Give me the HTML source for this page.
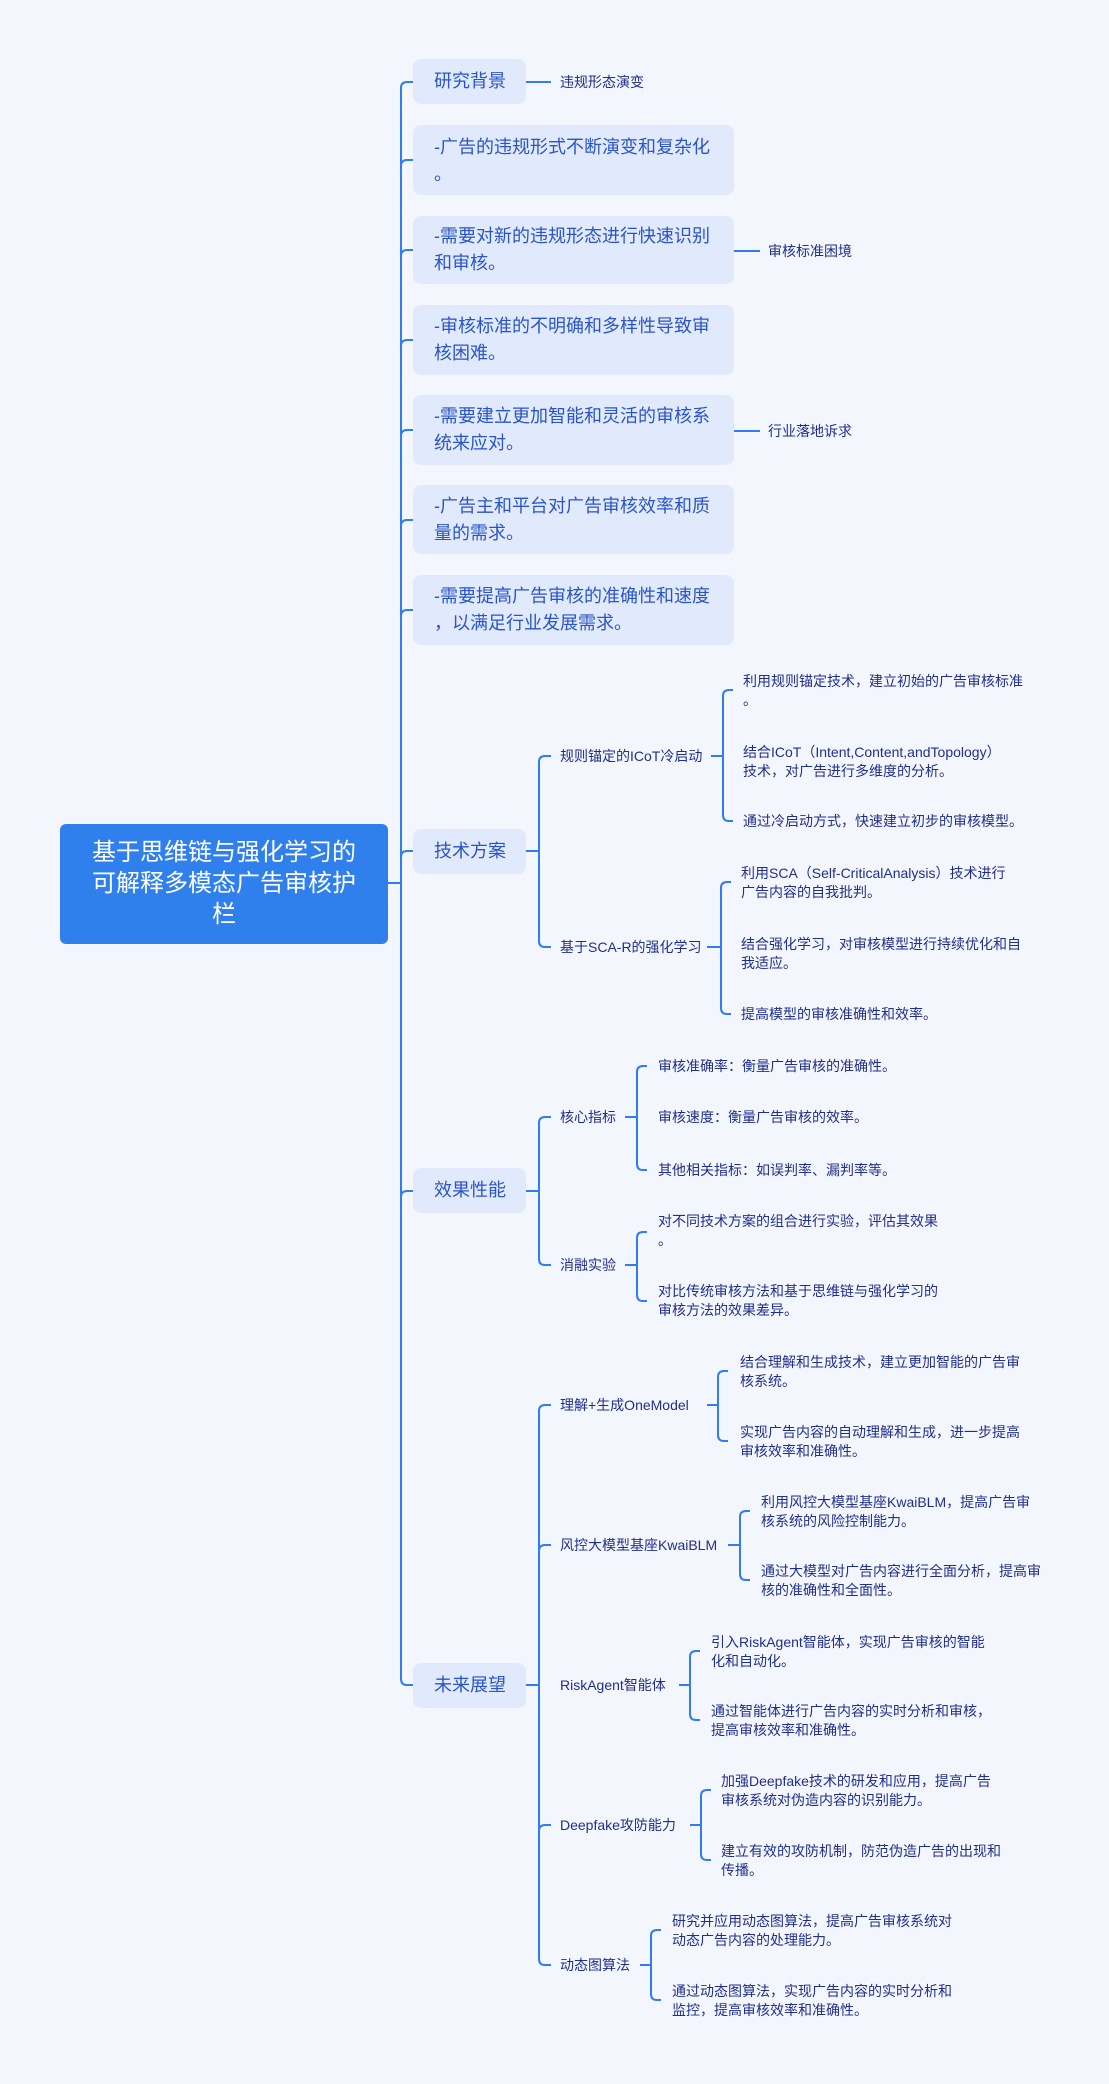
<!DOCTYPE html>
<html><head><meta charset="utf-8"><style>
html,body{margin:0;padding:0}
body{width:1109px;height:2084px;background:#f4f6fd;position:relative;overflow:hidden;font-family:"Liberation Sans","Noto Sans CJK SC",sans-serif}
.b{position:absolute;background:#e1e9fc;border-radius:8px;color:#2a55c6;font-size:18px;line-height:27px;box-sizing:border-box;padding-left:21px;white-space:nowrap}
.t{position:absolute;font-size:14px;line-height:18.5px;color:#1f2f8c;white-space:nowrap}
.root{position:absolute;left:60px;top:824px;width:328px;height:120px;background:#2f80ed;border-radius:6px;color:#fff;font-size:24px;line-height:31px;text-align:center;box-sizing:border-box;padding-top:13px}
svg{position:absolute;left:0;top:0}
</style></head><body>
<svg width="1109" height="2084" fill="none" stroke="#2f7df0" stroke-width="2">
<path d="M388,883H401"/>
<path d="M414,82H407Q401,82 401,88V1679Q401,1685 407,1685H414"/>
<path d="M401,166Q401,160 407,160H414M401,256Q401,250 407,250H414M401,346Q401,340 407,340H414M401,436Q401,430 407,430H414M401,526Q401,520 407,520H414M401,616Q401,610 407,610H414M401,857Q401,851 407,851H414M401,1197Q401,1191 407,1191H414"/>
<path d="M526,82H551M734,251H760M734,431H760"/>
<path d="M526,851H539M551,756H545Q539,756 539,762V941Q539,947 545,947H551"/>
<path d="M711,756H723M733,690H729Q723,690 723,696V815Q723,821 729,821H733"/>
<path d="M707,947H721M731,882H727Q721,882 721,888V1008Q721,1014 727,1014H731"/>
<path d="M526,1191H539M551,1117H545Q539,1117 539,1123V1259Q539,1265 545,1265H551"/>
<path d="M625,1117H637M647,1066H643Q637,1066 637,1072V1164Q637,1170 643,1170H647"/>
<path d="M625,1265H637M647,1232H643Q637,1232 637,1238V1295Q637,1301 643,1301H647"/>
<path d="M526,1685H539M551,1405H545Q539,1405 539,1411V1959Q539,1965 545,1965H551M539,1551Q539,1545 545,1545H551M539,1831Q539,1825 545,1825H551"/>
<path d="M707,1405H718M728,1371H724Q718,1371 718,1377V1435Q718,1441 724,1441H728"/>
<path d="M728,1545H740M750,1511H746Q740,1511 740,1517V1574Q740,1580 746,1580H750"/>
<path d="M679,1685H690M700,1651H696Q690,1651 690,1657V1714Q690,1720 696,1720H700"/>
<path d="M690,1825H701M711,1790H707Q701,1790 701,1796V1854Q701,1860 707,1860H711"/>
<path d="M640,1965H651M661,1930H657Q651,1930 651,1936V1994Q651,2000 657,2000H661"/>
</svg>
<div class="root">基于思维链与强化学习的<br>可解释多模态广告审核护<br>栏</div>
<div class="b" style="left:413px;top:59px;width:113px;height:45px;padding-top:9px">研究背景</div>
<div class="b" style="left:413px;top:125px;width:321px;height:70px;padding-top:9px">-广告的违规形式不断演变和复杂化<br>。</div>
<div class="b" style="left:413px;top:216px;width:321px;height:68px;padding-top:7px">-需要对新的违规形态进行快速识别<br>和审核。</div>
<div class="b" style="left:413px;top:305px;width:321px;height:70px;padding-top:8px">-审核标准的不明确和多样性导致审<br>核困难。</div>
<div class="b" style="left:413px;top:395px;width:321px;height:70px;padding-top:8px">-需要建立更加智能和灵活的审核系<br>统来应对。</div>
<div class="b" style="left:413px;top:485px;width:321px;height:69px;padding-top:8px">-广告主和平台对广告审核效率和质<br>量的需求。</div>
<div class="b" style="left:413px;top:575px;width:321px;height:70px;padding-top:8px">-需要提高广告审核的准确性和速度<br>，以满足行业发展需求。</div>
<div class="b" style="left:413px;top:829px;width:113px;height:45px;padding-top:9px">技术方案</div>
<div class="b" style="left:413px;top:1168px;width:113px;height:45px;padding-top:9px">效果性能</div>
<div class="b" style="left:413px;top:1663px;width:113px;height:45px;padding-top:9px">未来展望</div>

<div class="t" style="left:560px;top:73px">违规形态演变</div>
<div class="t" style="left:768px;top:242px">审核标准困境</div>
<div class="t" style="left:768px;top:422px">行业落地诉求</div>

<div class="t" style="left:560px;top:747px">规则锚定的ICoT冷启动</div>
<div class="t" style="left:560px;top:938px">基于SCA-R的强化学习</div>
<div class="t" style="left:743px;top:672px">利用规则锚定技术，建立初始的广告审核标准<br>。</div>
<div class="t" style="left:743px;top:743px">结合ICoT（Intent,Content,andTopology）<br>技术，对广告进行多维度的分析。</div>
<div class="t" style="left:743px;top:812px">通过冷启动方式，快速建立初步的审核模型。</div>
<div class="t" style="left:741px;top:864px">利用SCA（Self-CriticalAnalysis）技术进行<br>广告内容的自我批判。</div>
<div class="t" style="left:741px;top:935px">结合强化学习，对审核模型进行持续优化和自<br>我适应。</div>
<div class="t" style="left:741px;top:1005px">提高模型的审核准确性和效率。</div>

<div class="t" style="left:560px;top:1108px">核心指标</div>
<div class="t" style="left:560px;top:1256px">消融实验</div>
<div class="t" style="left:658px;top:1057px">审核准确率：衡量广告审核的准确性。</div>
<div class="t" style="left:658px;top:1108px">审核速度：衡量广告审核的效率。</div>
<div class="t" style="left:658px;top:1161px">其他相关指标：如误判率、漏判率等。</div>
<div class="t" style="left:658px;top:1212px">对不同技术方案的组合进行实验，评估其效果<br>。</div>
<div class="t" style="left:658px;top:1282px">对比传统审核方法和基于思维链与强化学习的<br>审核方法的效果差异。</div>

<div class="t" style="left:560px;top:1396px">理解+生成OneModel</div>
<div class="t" style="left:560px;top:1536px">风控大模型基座KwaiBLM</div>
<div class="t" style="left:560px;top:1676px">RiskAgent智能体</div>
<div class="t" style="left:560px;top:1816px">Deepfake攻防能力</div>
<div class="t" style="left:560px;top:1956px">动态图算法</div>
<div class="t" style="left:740px;top:1353px">结合理解和生成技术，建立更加智能的广告审<br>核系统。</div>
<div class="t" style="left:740px;top:1423px">实现广告内容的自动理解和生成，进一步提高<br>审核效率和准确性。</div>
<div class="t" style="left:761px;top:1493px">利用风控大模型基座KwaiBLM，提高广告审<br>核系统的风险控制能力。</div>
<div class="t" style="left:761px;top:1562px">通过大模型对广告内容进行全面分析，提高审<br>核的准确性和全面性。</div>
<div class="t" style="left:711px;top:1633px">引入RiskAgent智能体，实现广告审核的智能<br>化和自动化。</div>
<div class="t" style="left:711px;top:1702px">通过智能体进行广告内容的实时分析和审核，<br>提高审核效率和准确性。</div>
<div class="t" style="left:721px;top:1772px">加强Deepfake技术的研发和应用，提高广告<br>审核系统对伪造内容的识别能力。</div>
<div class="t" style="left:721px;top:1842px">建立有效的攻防机制，防范伪造广告的出现和<br>传播。</div>
<div class="t" style="left:672px;top:1912px">研究并应用动态图算法，提高广告审核系统对<br>动态广告内容的处理能力。</div>
<div class="t" style="left:672px;top:1982px">通过动态图算法，实现广告内容的实时分析和<br>监控，提高审核效率和准确性。</div>
</body></html>
